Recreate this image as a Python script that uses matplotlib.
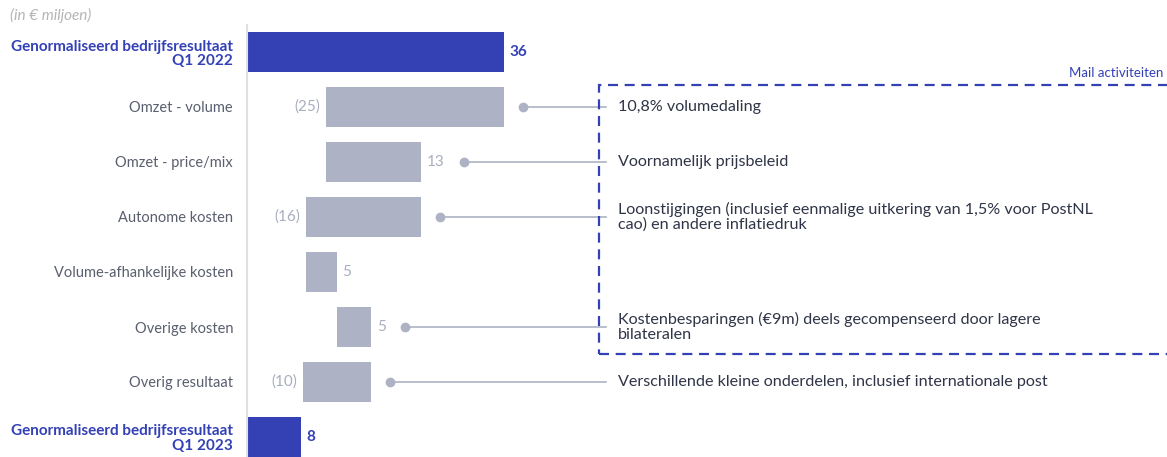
import matplotlib
matplotlib.use("Agg")
import matplotlib.pyplot as plt
from matplotlib.patches import Rectangle

plt.rcParams['font.family'] = ['Lato', 'DejaVu Sans']

categories = ["Genormaliseerd bedrijfsresultaat\nQ1 2022", "Omzet - volume", "Omzet - price/mix",
              "Autonome kosten", "Volume-afhankelijke kosten", "Overige kosten",
              "Overig resultaat", "Genormaliseerd bedrijfsresultaat\nQ1 2023"]
values = [36.0, -24.9, 13.3, -16.2, 4.4, 4.8, -9.6, 7.6]
value_labels = ["36", "(25)", "13", "(16)", "5", "5", "(10)", "8"]
is_total = [True, False, False, False, False, False, False, True]
notes = ["", "10,8% volumedaling", "Voornamelijk prijsbeleid",
         "Loonstijgingen (inclusief eenmalige uitkering van 1,5% voor PostNL\ncao) en andere inflatiedruk",
         "", "Kostenbesparingen (€9m) deels gecompenseerd door lagere\nbilateralen",
         "Verschillende kleine onderdelen, inclusief internationale post", ""]
box_label = "Mail activiteiten"
unit_label = "(in € miljoen)"

BLUE = "#3341b5"
GRAY = "#adb3c4"
LBL_GRAY = "#a9aebe"
TXT = "#2f3447"

W, H = 1167, 457
fig = plt.figure(figsize=(W / 100, H / 100), dpi=100)
ax_left = 247
px_per_unit = 7.14
ax = fig.add_axes([ax_left / W, 0, (W - ax_left) / W, 1])
ax.set_xlim(0, (W - ax_left) / px_per_unit)
row0, step = 52, 55
ax.set_ylim((H - row0) / step, -row0 / step)

running = 0
bars = []
for i, v in enumerate(values):
    if is_total[i]:
        left, width = 0, v
        running = v
    else:
        start = running
        end = running + v
        left, width = min(start, end), abs(v)
        running = end
    ax.barh(i, width, left=left, height=0.72, color=BLUE if is_total[i] else GRAY, zorder=2)
    bars.append((left, left + width))

labels = []
for i, v in enumerate(values):
    l, r = bars[i]
    if is_total[i]:
        t = ax.annotate(value_labels[i], (r, i), xytext=(4, 0), textcoords="offset points",
                        ha="left", va="center", fontsize=11, color=BLUE, fontweight="bold")
    elif v < 0:
        t = ax.annotate(value_labels[i], (l, i), xytext=(-4, 0), textcoords="offset points",
                        ha="right", va="center", fontsize=11, color=LBL_GRAY)
    else:
        t = ax.annotate(value_labels[i], (r, i), xytext=(4, 0), textcoords="offset points",
                        ha="left", va="center", fontsize=11, color=LBL_GRAY)
    labels.append(t)

fig.canvas.draw()
inv = ax.transData.inverted()
box_x = 599
line_end = (box_x + 7 - ax_left) / px_per_unit
text_x = (618 - ax_left) / px_per_unit
for i, note in enumerate(notes):
    if not note:
        continue
    l, r = bars[i]
    ext = labels[i].get_window_extent()
    right_px = max(ax.transData.transform((r, i))[0], ext.x1)
    dot_x = inv.transform((right_px + 19, 0))[0]
    ax.plot([dot_x, line_end], [i, i], color=GRAY, lw=1.2, zorder=3)
    ax.plot(dot_x, i, "o", color=GRAY, ms=6, zorder=4)
    ax.text(text_x, i, note, ha="left", va="center", fontsize=11.6, color=TXT,
            linespacing=1.08)

ax.set_yticks(range(len(categories)))
ax.set_yticklabels(categories)
for i, tl in enumerate(ax.get_yticklabels()):
    if is_total[i]:
        tl.set_color(BLUE)
        tl.set_fontweight("bold")
        tl.set_linespacing(1.05)
        tl.set_fontsize(11)
    else:
        tl.set_color("#5a5f6e")
        tl.set_fontsize(10.5)
ax.tick_params(axis="y", length=0, pad=10)
ax.set_xticks([])
for s in ["top", "right", "bottom"]:
    ax.spines[s].set_visible(False)
ax.spines["left"].set_color("#e0e0e0")
ax.spines["left"].set_linewidth(1.5)
ax.spines["left"].set_bounds(-0.5, 7.5)

# dashed box
top_px, bot_px = 85, 354
rect = Rectangle((box_x / W, 1 - bot_px / H), (W + 5 - box_x) / W, (bot_px - top_px) / H,
                 transform=fig.transFigure, fill=False, edgecolor=BLUE, lw=1.6,
                 linestyle=(0, (4.5, 3)), zorder=5)
fig.add_artist(rect)
fig.text(1163 / W, 1 - 73 / H, box_label, ha="right", va="center", fontsize=9.5, color=BLUE)
fig.text(10 / W, 1 - 15 / H, unit_label, ha="left", va="center", fontsize=11,
         color="#b5b5b5", style="italic")

fig.savefig("out.png", dpi=100)
